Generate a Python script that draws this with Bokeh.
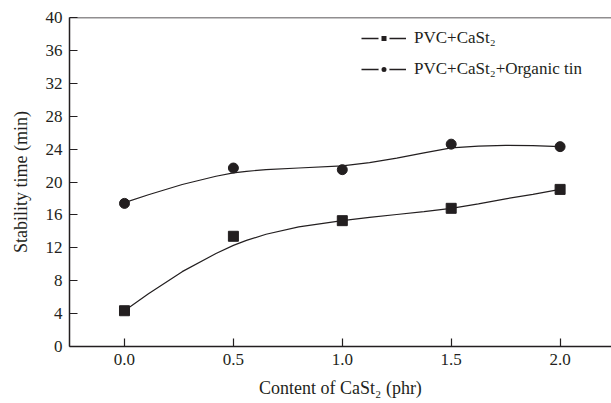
from bokeh.plotting import figure
from bokeh.models import Range1d, FixedTicker, PrintfTickFormatter, Span, Legend, LegendItem
from bokeh.embed import file_html
from bokeh.resources import INLINE

# data
content = [0.0, 0.5, 1.0, 1.5, 2.0]
pvc_cast = [4.35, 13.4, 15.3, 16.8, 19.1]
pvc_cast_tin = [17.4, 21.7, 21.5, 24.6, 24.3]

# smooth fitted curves
fit_x = [0.0, 0.11, 0.265, 0.42, 0.5, 0.56, 0.65, 0.8, 1.0, 1.125, 1.25, 1.375,
         1.5, 1.625, 1.75, 1.875, 2.0]
fit_cast = [4.35, 6.4, 9.1, 11.3, 12.3, 12.9, 13.65, 14.55, 15.3, 15.7, 16.05, 16.4,
            16.8, 17.35, 17.95, 18.5, 19.1]
fit_cast_tin = [17.5, 18.45, 19.7, 20.7, 21.1, 21.3, 21.5, 21.7, 21.95, 22.35, 22.9, 23.55,
                24.15, 24.35, 24.45, 24.42, 24.3]

y_ticks = [0, 4, 8, 12, 16, 20, 24, 28, 32, 36, 40]
x_ticks = [0.0, 0.5, 1.0, 1.5, 2.0]

INK = "#231f20"
FONT = "Liberation Serif"
NAN = float("nan")

p = figure(width=611, height=403, output_backend="svg", toolbar_location=None,
           x_range=Range1d(-0.2525, 2.236), y_range=Range1d(0, 40),
           min_border_left=69, min_border_right=0, min_border_top=17, min_border_bottom=57)
p.outline_line_color = None
p.xgrid.visible = False
p.ygrid.visible = False

for ax in (p.xaxis[0], p.yaxis[0]):
    ax.axis_line_color = INK
    ax.axis_line_width = 1.5
    ax.major_tick_line_color = INK
    ax.major_tick_line_width = 1.2
    ax.major_tick_in = 8
    ax.major_tick_out = 0
    ax.minor_tick_line_color = None
    ax.major_label_text_font = FONT
    ax.major_label_text_font_size = "17px"
    ax.major_label_text_color = INK
    ax.axis_label_text_font = FONT
    ax.axis_label_text_font_size = "18px"
    ax.axis_label_text_font_style = "normal"
    ax.axis_label_text_color = INK

p.xaxis.ticker = FixedTicker(ticks=x_ticks)
p.xaxis.formatter = PrintfTickFormatter(format="%.1f")
p.yaxis.ticker = FixedTicker(ticks=y_ticks)
p.xaxis.axis_label = "Content of CaSt\u2082 (phr)"
p.yaxis.axis_label = "Stability time (min)"
p.xaxis.major_label_standoff = 7
p.xaxis.axis_label_standoff = 10
p.yaxis.major_label_standoff = 7
p.yaxis.axis_label_standoff = 12

p.add_layout(Span(location=40, dimension="width", line_color=INK, line_width=1.5))

p.line(fit_x, fit_cast, line_color=INK, line_width=1.2)
p.scatter(content, pvc_cast, marker="square", size=10, fill_color=INK, line_color=INK)
p.line(fit_x, fit_cast_tin, line_color=INK, line_width=1.2)
p.scatter(content, pvc_cast_tin, marker="circle", size=10, fill_color=INK, line_color=INK)

# legend-only renderers (a single undefined point), so the key shows a small marker with gaps
kl1 = p.line([NAN], [NAN], line_color=INK, line_width=1.3)
km1 = p.scatter([NAN], [NAN], marker="square", size=11, fill_color=INK, line_color="white", line_width=3)
kl2 = p.line([NAN], [NAN], line_color=INK, line_width=1.3)
km2 = p.scatter([NAN], [NAN], marker="circle", size=11, fill_color=INK, line_color="white", line_width=3)

legend = Legend(items=[
    LegendItem(label="PVC+CaSt\u2082", renderers=[kl1, km1]),
    LegendItem(label="PVC+CaSt\u2082+Organic tin", renderers=[kl2, km2]),
], location=(292, 267))
legend.border_line_color = None
legend.background_fill_color = None
legend.padding = 0
legend.margin = 0
legend.spacing = 11
legend.glyph_width = 45
legend.glyph_height = 20
legend.label_height = 20
legend.label_standoff = 8
legend.label_text_font = FONT
legend.label_text_font_size = "17px"
legend.label_text_color = INK
p.add_layout(legend)

open("out.html", "w").write(file_html(p, INLINE))
